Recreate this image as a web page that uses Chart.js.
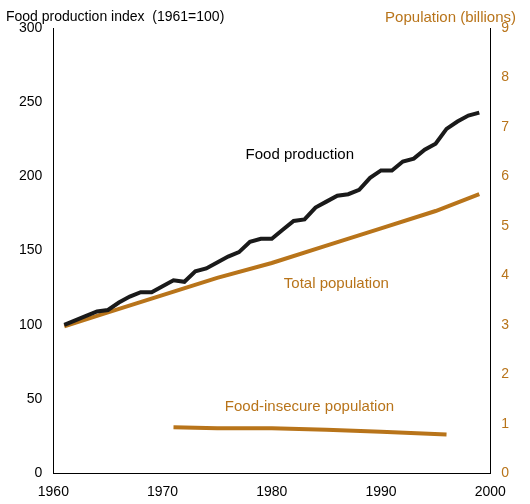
<!DOCTYPE html><html><head><script src="https://cdn.jsdelivr.net/npm/chart.js@4"></script>
<style>body{margin:0;background:#fff}#w{width:530px;height:504px;position:relative}
.t{position:absolute;font-family:"Liberation Sans",Arial;font-size:14px;top:8px}</style></head><body>
<div id="w"><canvas id="c" width="530" height="504"></canvas>
<div class="t" style="left:6px;color:#000">Food production index&nbsp; (1961=100)</div>
<div class="t" style="right:14px;color:#b8741a;font-size:15px">Population (billions)</div></div>
<script>
const foodYears=[1961,1962,1963,1964,1965,1966,1967,1968,1969,1970,1971,1972,1973,1974,1975,1976,1977,1978,1979,1980,1981,1982,1983,1984,1985,1986,1987,1988,1989,1990,1991,1992,1993,1994,1995,1996,1997,1998,1999];
const foodIdx=[100,103,106,109,110,115,119,122,122,126,130,129,136,138,142,146,149,156,158,158,164,170,171,179,183,187,188,191,199,204,204,210,212,218,222,232,237,241,243];
const popYears=[1961,1965,1970,1975,1980,1985,1990,1995,1999];
const popBn=[2.97,3.25,3.6,3.95,4.25,4.6,4.95,5.3,5.64];
const insecYears=[1971,1975,1980,1985,1990,1996];
const insecBn=[0.93,0.91,0.91,0.88,0.84,0.78];
const pts=(x,y)=>x.map((v,i)=>({x:v,y:y[i]}));
const brown='#b8741a';
new Chart(document.getElementById('c'),{type:'line',data:{datasets:[
{data:pts(foodYears,foodIdx),borderColor:'#1a1a1a',borderWidth:4,pointRadius:0,yAxisID:'y'},
{data:pts(popYears,popBn),borderColor:brown,borderWidth:4,pointRadius:0,yAxisID:'y2'},
{data:pts(insecYears,insecBn),borderColor:brown,borderWidth:4,pointRadius:0,yAxisID:'y2'}]},
options:{responsive:false,animation:false,layout:{padding:{top:28,right:18,left:16}},plugins:{legend:{display:false},tooltip:{enabled:false}},
scales:{x:{type:'linear',min:1960,max:2000,ticks:{stepSize:10,callback:v=>String(v),color:'#000',font:{size:14,family:'Liberation Sans'}},grid:{display:false,drawTicks:true},border:{color:'#000'}},
y:{min:0,max:300,ticks:{stepSize:50,color:'#000',font:{size:14,family:'Liberation Sans'}},grid:{display:false},border:{color:'#000'}},
y2:{position:'right',min:0,max:9,ticks:{stepSize:1,color:brown,font:{size:14,family:'Liberation Sans'}},grid:{display:false},border:{color:'#000'}}}},
plugins:[{id:'lbl',afterDraw(ch){const c=ch.ctx,x=ch.scales.x,y=ch.scales.y;c.save();c.font='15px "Liberation Sans"';
c.fillStyle='#000';c.fillText('Food production',x.getPixelForValue(1977.6),y.getPixelForValue(212));
c.fillStyle=brown;c.fillText('Total population',x.getPixelForValue(1981.1),y.getPixelForValue(125));
c.fillText('Food-insecure population',x.getPixelForValue(1975.7),y.getPixelForValue(42));c.restore();}}]});
</script></body></html>
